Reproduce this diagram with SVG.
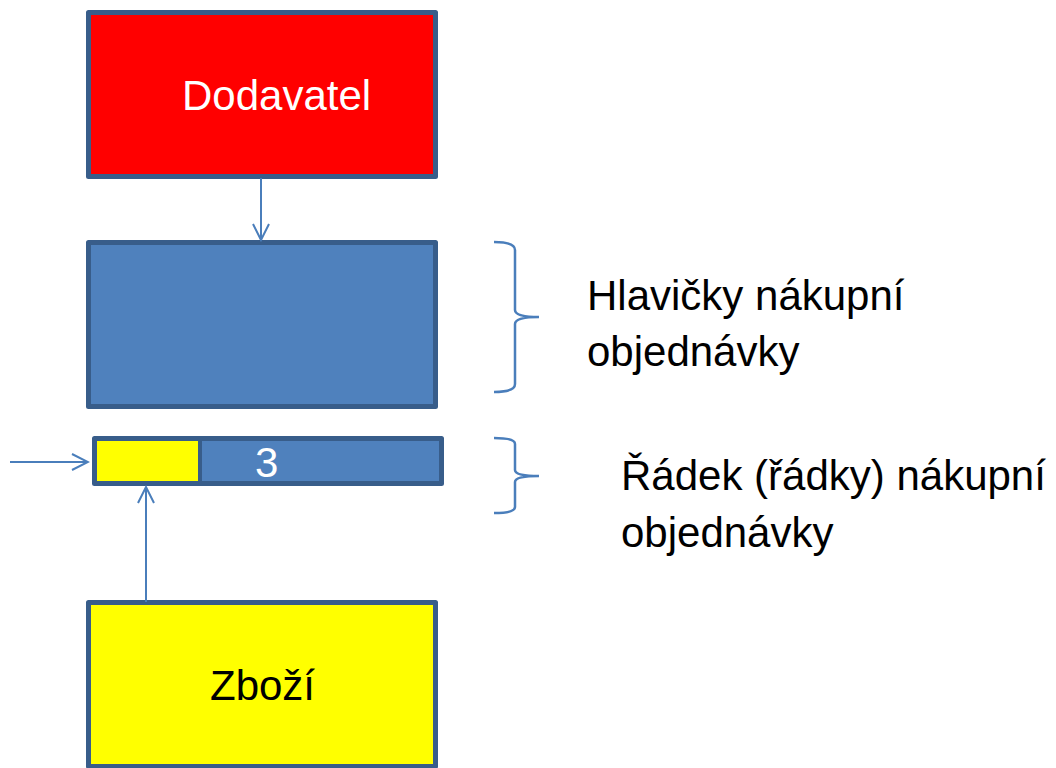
<svg xmlns="http://www.w3.org/2000/svg" width="1056" height="768" viewBox="0 0 1056 768">
<defs>
<style>
.box{stroke:#385D8A;stroke-width:5;stroke-linejoin:round}
.conn{fill:none;stroke:#4A7EBB;stroke-width:2}
.br{fill:none;stroke:#4A7EBB;stroke-width:2.5}
text{font-family:"Liberation Sans",Arial,sans-serif;font-size:42px}
.lbl{fill:#000}
</style>
<marker id="open" viewBox="0 0 20 20" refX="18" refY="10" markerWidth="20" markerHeight="20" markerUnits="userSpaceOnUse" orient="auto">
<path d="M2,2 L18,10 L2,18" fill="none" stroke="#4A7EBB" stroke-width="2"/>
</marker>
</defs>
<rect width="1056" height="768" fill="#fff"/>
<g id="dodavatel">
<rect class="box" x="88.5" y="12.5" width="347" height="164" fill="#FF0000"/>
<text x="182" y="110" fill="#fff">Dodavatel</text>
</g>
<g id="hlavicky">
<rect class="box" x="88.5" y="242.5" width="347" height="164" fill="#4F81BD"/>
</g>
<g id="radek">
<rect class="box" x="94.5" y="438.5" width="347" height="45" fill="#4F81BD"/>
<rect x="97" y="441" width="103" height="40" fill="#FFFF00"/>
<line x1="200" y1="438" x2="200" y2="484" stroke="#385D8A" stroke-width="4"/>
<text x="255" y="477" fill="#fff">3</text>
</g>
<g id="zbozi">
<rect class="box" x="88.5" y="602.5" width="347" height="164" fill="#FFFF00"/>
<text x="210" y="700" fill="#000">Zboží</text>
</g>
<g id="label-hlavicky">
<text class="lbl" x="587" y="310">Hlavičky nákupní</text>
<text class="lbl" x="587" y="366">objednávky</text>
</g>
<g id="label-radek">
<text class="lbl" x="621" y="490">Řádek (řádky) nákupní</text>
<text class="lbl" x="621" y="547">objednávky</text>
</g>
<g id="connectors">
<line class="conn" x1="261" y1="178" x2="261" y2="240" marker-end="url(#open)"/>
<line class="conn" x1="10" y1="462" x2="88" y2="462" marker-end="url(#open)"/>
<line class="conn" x1="146" y1="602" x2="146" y2="487" marker-end="url(#open)"/>
<path class="br" d="M494,242 Q515,242 515,250 L515,310 Q515,317 539,317 Q515,317 515,324 L515,384 Q515,392 494,392"/>
<path class="br" d="M494,438 Q515,438 515,444 L515,470 Q515,476 539,476 Q515,476 515,482 L515,507 Q515,513 494,513"/>
</g>
</svg>
